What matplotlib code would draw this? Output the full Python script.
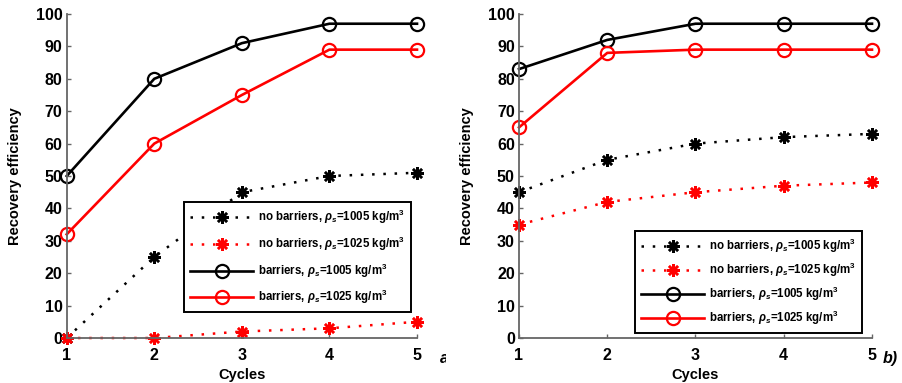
import numpy as np
import matplotlib
matplotlib.use("Agg")
import matplotlib.pyplot as plt
from matplotlib.transforms import Bbox, TransformedBbox

plt.rcParams['font.family'] = ['Liberation Sans', 'DejaVu Sans']
plt.rcParams['font.weight'] = 'bold'
plt.rcParams['mathtext.fontset'] = 'custom'
plt.rcParams['mathtext.rm'] = 'Liberation Sans:bold'
plt.rcParams['mathtext.it'] = 'Liberation Sans:italic:bold'
plt.rcParams['mathtext.bf'] = 'Liberation Sans:bold'

cycles = [1, 2, 3, 4, 5]

# panel a
a_nobar_1005 = [0, 25, 45, 50, 51]
a_nobar_1025 = [0, 0, 2, 3, 5]
a_bar_1005 = [50, 80, 91, 97, 97]
a_bar_1025 = [32, 60, 75, 89, 89]

# panel b
b_nobar_1005 = [45, 55, 60, 62, 63]
b_nobar_1025 = [35, 42, 45, 47, 48]
b_bar_1005 = [83, 92, 97, 97, 97]
b_bar_1025 = [65, 88, 89, 89, 89]

labels = [r'no barriers, $\rho_s$=1005 kg/m$^3$',
          r'no barriers, $\rho_s$=1025 kg/m$^3$',
          r'barriers, $\rho_s$=1005 kg/m$^3$',
          r'barriers, $\rho_s$=1025 kg/m$^3$']

W, H = 903, 383
fig = plt.figure(figsize=(W / 100, H / 100), dpi=100)

def px_axes(x0, x1, y_top, y_bot):
    return fig.add_axes([x0 / W, 1 - y_bot / H, (x1 - x0) / W, (y_bot - y_top) / H])

ax1 = px_axes(66.7, 417, 14, 338)
ax2 = px_axes(519, 872, 14, 338)

star = (8, 2, 0)
dots = (0, (1, 3.5))

def draw(ax, nb1, nb2, b1, b2, leg_xy, spacing):
    h1, = ax.plot(cycles, nb1, color='k', ls=dots, lw=1.8, marker=star,
                  ms=9, mew=1.8, clip_on=False)
    h2, = ax.plot(cycles, nb2, color='#ff0000', ls=dots, lw=1.8, marker=star,
                  ms=9, mew=1.8, clip_on=False)
    h3, = ax.plot(cycles, b1, color='k', lw=1.9, marker='o', ms=9.5,
                  mfc='none', mew=1.6, clip_on=False)
    h4, = ax.plot(cycles, b2, color='#ff0000', lw=1.9, marker='o', ms=9.5,
                  mfc='none', mew=1.6, clip_on=False)
    ax.set_xlim(1, 5)
    ax.set_ylim(0, 100)
    ax.set_xticks(cycles)
    ax.set_yticks(np.arange(0, 101, 10))
    for s in ['top', 'right']:
        ax.spines[s].set_visible(False)
    for s in ['left', 'bottom']:
        ax.spines[s].set_color('#666666')
        ax.spines[s].set_linewidth(1.3)
    ax.tick_params(direction='in', length=3, width=1, color='#666666',
                   labelsize=11.5)
    ax.tick_params(axis='x', pad=7)
    ax.tick_params(axis='y', pad=3)
    ax.set_xlabel('Cycles', fontsize=10.5, fontweight='bold', labelpad=4)
    ax.set_ylabel('Recovery efficiency', fontsize=10.5, fontweight='bold', labelpad=10)
    leg = ax.legend([h1, h2, h3, h4], labels, loc='upper left',
                    bbox_to_anchor=leg_xy, borderaxespad=0, fontsize=8.3,
                    handlelength=5.5, handletextpad=0.45, labelspacing=spacing,
                    borderpad=0.5, fancybox=False, framealpha=1)
    leg.get_frame().set_edgecolor('k')
    leg.get_frame().set_linewidth(1.4)

draw(ax1, a_nobar_1005, a_nobar_1025, a_bar_1005, a_bar_1025, (0.335, 0.42), 0.75)
draw(ax2, b_nobar_1005, b_nobar_1025, b_bar_1005, b_bar_1025, (0.329, 0.33), 0.5)

ta = fig.text(440 / W, 1 - 359 / H, 'a)', fontsize=11.5, fontweight='bold',
              style='italic', va='center', ha='left')
ta.set_clip_on(True)
ta.set_clip_box(TransformedBbox(Bbox.from_extents(0, 0, 446 / W, 1), fig.transFigure))
fig.text(883 / W, 1 - 359 / H, 'b)', fontsize=11.5, fontweight='bold',
         style='italic', va='center', ha='left')

fig.savefig('out.png', dpi=100)
